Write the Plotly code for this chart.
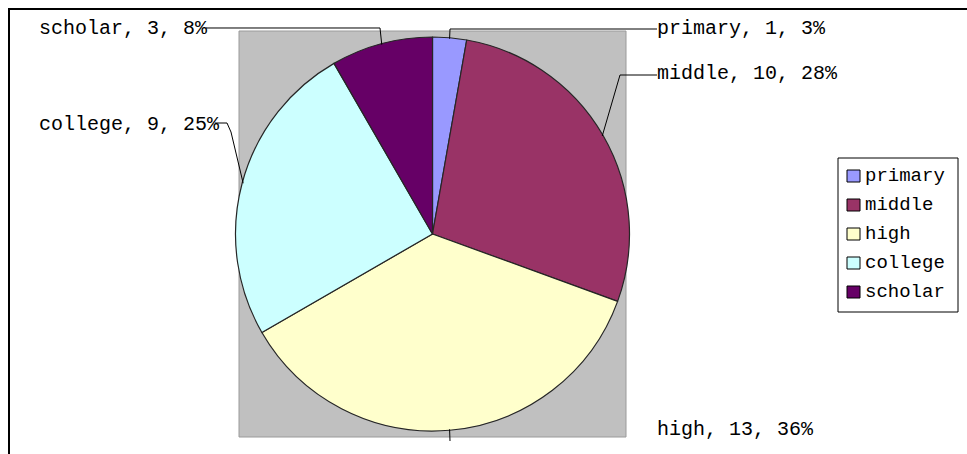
import math
import plotly.graph_objects as go

# Education level counts
categories = ["primary", "middle", "high", "college", "scholar"]
counts = [1, 10, 13, 9, 3]
colors = ["#9999FF", "#993366", "#FFFFCC", "#CCFFFF", "#660066"]

W, H = 967, 454
CX, CY, R = 432.5, 234.0, 197.0   # pie centre / radius in pixels

def px(x):
    return x / W

def py(y):
    return 1 - y / H

total = sum(counts)
pcts = [round(v / total * 100) for v in counts]
labels = [f"{c}, {v}, {p}%" for c, v, p in zip(categories, counts, pcts)]

# mid-angle of each slice (clockwise from 12 o'clock), used for leader lines
mid_angles = []
acc = 0
for v in counts:
    mid_angles.append((acc + v / 2) / total * 360)
    acc += v

def edge_point(i, rx=R - 1, ry=R - 1):
    a = math.radians(mid_angles[i])
    return CX + rx * math.sin(a), CY - ry * math.cos(a)

fig = go.Figure()
fig.add_trace(go.Pie(
    labels=categories,
    values=counts,
    marker=dict(colors=colors, line=dict(color="#262626", width=1.2)),
    sort=False,
    direction="clockwise",
    rotation=0,
    textinfo="none",
    hoverinfo="label+value+percent",
    showlegend=False,
    domain=dict(x=[px(CX - R), px(CX + R)], y=[py(CY + R), py(CY - R)]),
))

mono = "Liberation Mono, Courier New, monospace"
shapes = []
annotations = []

# grey plot area behind the pie
shapes.append(dict(type="rect", xref="paper", yref="paper",
                   x0=px(239), x1=px(626), y0=py(437), y1=py(31),
                   fillcolor="#C0C0C0", line=dict(color="#9a9a9a", width=1),
                   layer="below"))

# chart frame (top and left edges)
shapes.append(dict(type="line", xref="paper", yref="paper",
                   x0=px(8), x1=px(967), y0=py(9), y1=py(9),
                   line=dict(color="black", width=2)))
shapes.append(dict(type="line", xref="paper", yref="paper",
                   x0=px(9), x1=px(9), y0=py(8), y1=py(454),
                   line=dict(color="black", width=2)))

# data labels: (left x, centre y) for each category
label_pos = {
    "primary": (655, 28),
    "middle": (655, 74),
    "high": (655, 429),
    "college": (37, 124),
    "scholar": (37, 28),
}
for name, text in zip(categories, labels):
    x, y = label_pos[name]
    annotations.append(dict(text=text, x=px(x), y=py(y), xref="paper", yref="paper",
                            xanchor="left", yanchor="middle", showarrow=False,
                            font=dict(family=mono, size=20, color="black")))

# leader lines: elbow points, ending on the slice edge
elbows = {
    "primary": [(657, 29), (450, 29)],
    "middle": [(657, 75), (620, 75)],
    "college": [(215, 123), (227, 123), (231, 132)],
    "scholar": [(206, 28), (380, 28)],
    "high": [(450, 441)],
}
for i, name in enumerate(categories):
    pts = list(elbows[name]) + [edge_point(i)]
    path = "M " + " L ".join(f"{px(a):.5f},{py(b):.5f}" for a, b in pts)
    shapes.append(dict(type="path", xref="paper", yref="paper", path=path,
                       line=dict(color="black", width=1)))

# legend
lx0, lx1, ly0, ly1 = 838, 958, 158, 312
shapes.append(dict(type="rect", xref="paper", yref="paper",
                   x0=px(lx0), x1=px(lx1), y0=py(ly1), y1=py(ly0),
                   fillcolor="white", line=dict(color="black", width=1)))
row_y = [176, 205, 234, 263, 292]
for name, col, yc in zip(categories, colors, row_y):
    shapes.append(dict(type="rect", xref="paper", yref="paper",
                       x0=px(847), x1=px(860), y0=py(yc + 6), y1=py(yc - 6),
                       fillcolor=col, line=dict(color="black", width=1)))
    annotations.append(dict(text=name, x=px(863), y=py(yc), xref="paper", yref="paper",
                            xanchor="left", yanchor="middle", showarrow=False,
                            font=dict(family=mono, size=19, color="black")))

fig.update_layout(
    width=W, height=H,
    margin=dict(l=0, r=0, t=0, b=0),
    paper_bgcolor="white",
    plot_bgcolor="white",
    shapes=shapes,
    annotations=annotations,
)

fig.write_html("out.html")
